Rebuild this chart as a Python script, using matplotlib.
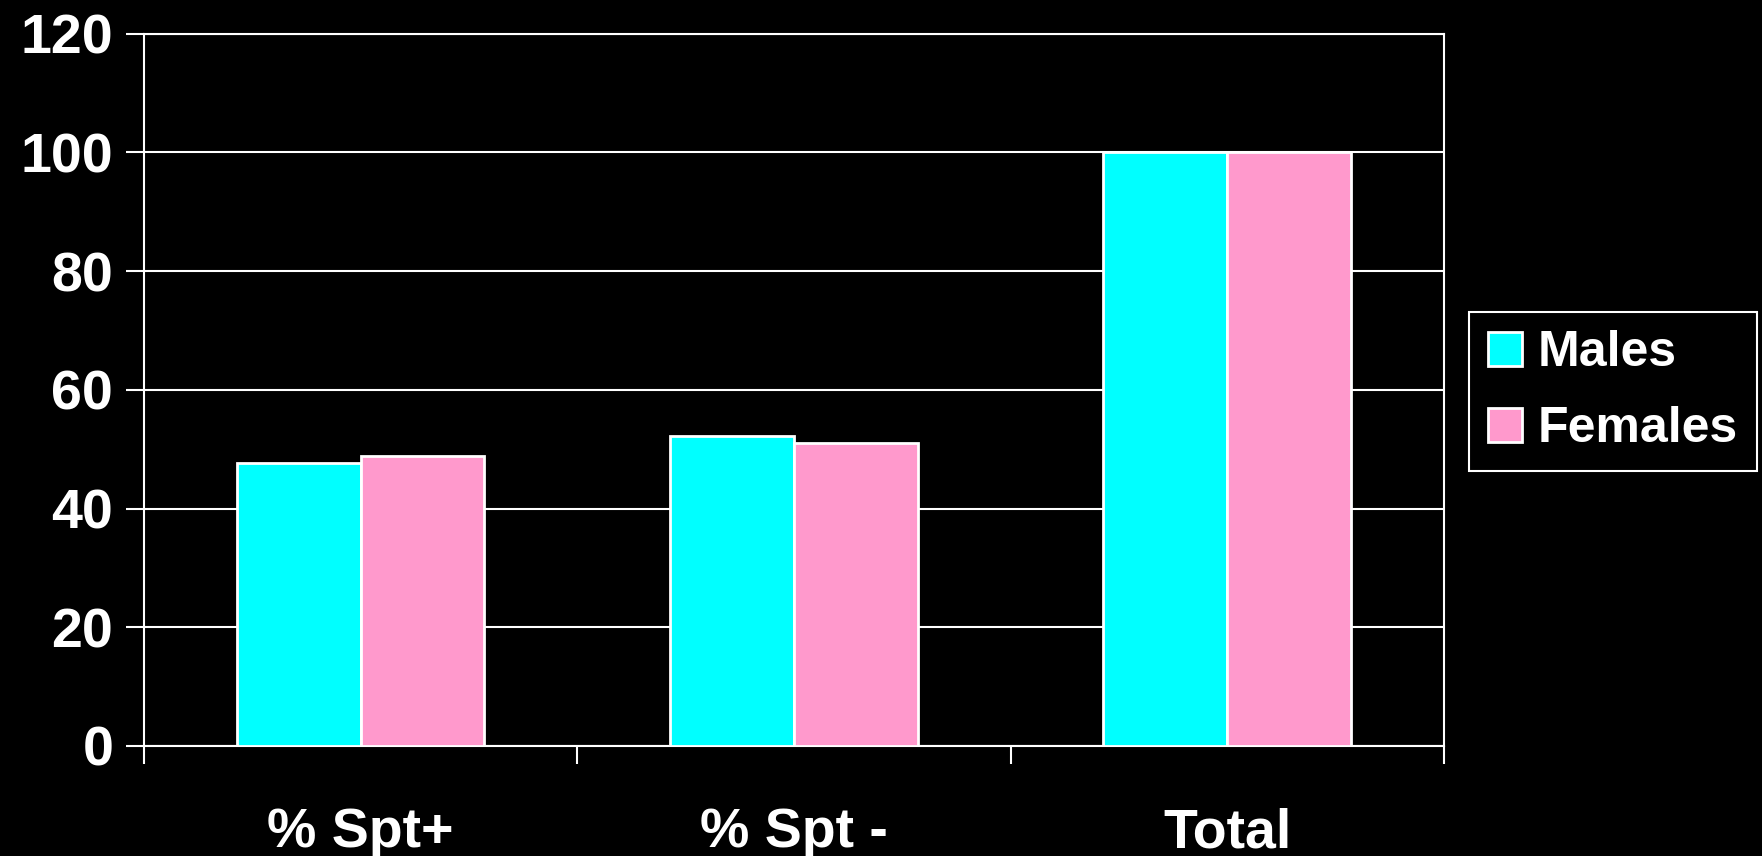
import matplotlib
matplotlib.use('Agg')
import matplotlib.pyplot as plt
import numpy as np

plt.rcParams['font.family'] = ['Liberation Sans', 'DejaVu Sans']
plt.rcParams['font.weight'] = 'bold'

categories = ['% Spt+', '% Spt -', 'Total']
males = [47.7, 52.3, 100]
females = [48.9, 51.1, 100]
series_names = ['Males', 'Females']

fig = plt.figure(figsize=(17.62, 8.56), dpi=100, facecolor='black')
ax = fig.add_axes([143.8 / 1762, 1 - 746 / 856, (1444 - 143.8) / 1762, (746 - 33.7) / 856])
ax.set_facecolor('black')

x = np.arange(len(categories))
w = 0.286
b1 = ax.bar(x - w / 2, males, w, color='#00FFFF', edgecolor='white', linewidth=2, zorder=3)
b2 = ax.bar(x + w / 2, females, w, color='#FF99CC', edgecolor='white', linewidth=2, zorder=3)

ax.set_xlim(-0.5, len(categories) - 0.5)
ax.set_ylim(0, 120)
ax.set_yticks(np.arange(0, 121, 20))
ax.yaxis.grid(True, color='white', linewidth=1.5, zorder=0)

# category labels centred, ticks between groups
ax.set_xticks(np.arange(-0.5, len(categories), 1.0))
ax.set_xticklabels([])
ax.set_xticks(x, minor=True)
ax.set_xticklabels(categories, minor=True)
ax.tick_params(axis='x', which='minor', length=0, pad=44, labelsize=40, labelcolor='white')
ax.tick_params(axis='x', which='major', length=13, width=1.5, color='white', direction='out')
ax.tick_params(axis='y', length=13, width=1.5, color='white', direction='out', pad=9,
               labelsize=40, labelcolor='white')

for s in ax.spines.values():
    s.set_color('white')
    s.set_linewidth(1.5)

leg = ax.legend((b1, b2), series_names, loc='upper left',
                bbox_to_anchor=(1469 / 1762, 1 - 312 / 856), bbox_transform=fig.transFigure,
                facecolor='black', edgecolor='white', fancybox=False, framealpha=1,
                prop={'size': 36, 'weight': 'bold'}, handlelength=0.68, handleheight=0.68,
                handletextpad=0.33, labelspacing=0.6, borderpad=0.37, borderaxespad=0)
for t in leg.get_texts():
    t.set_color('white')
leg.get_frame().set_linewidth(1.5)

fig.savefig('out.png', dpi=100, facecolor='black')
